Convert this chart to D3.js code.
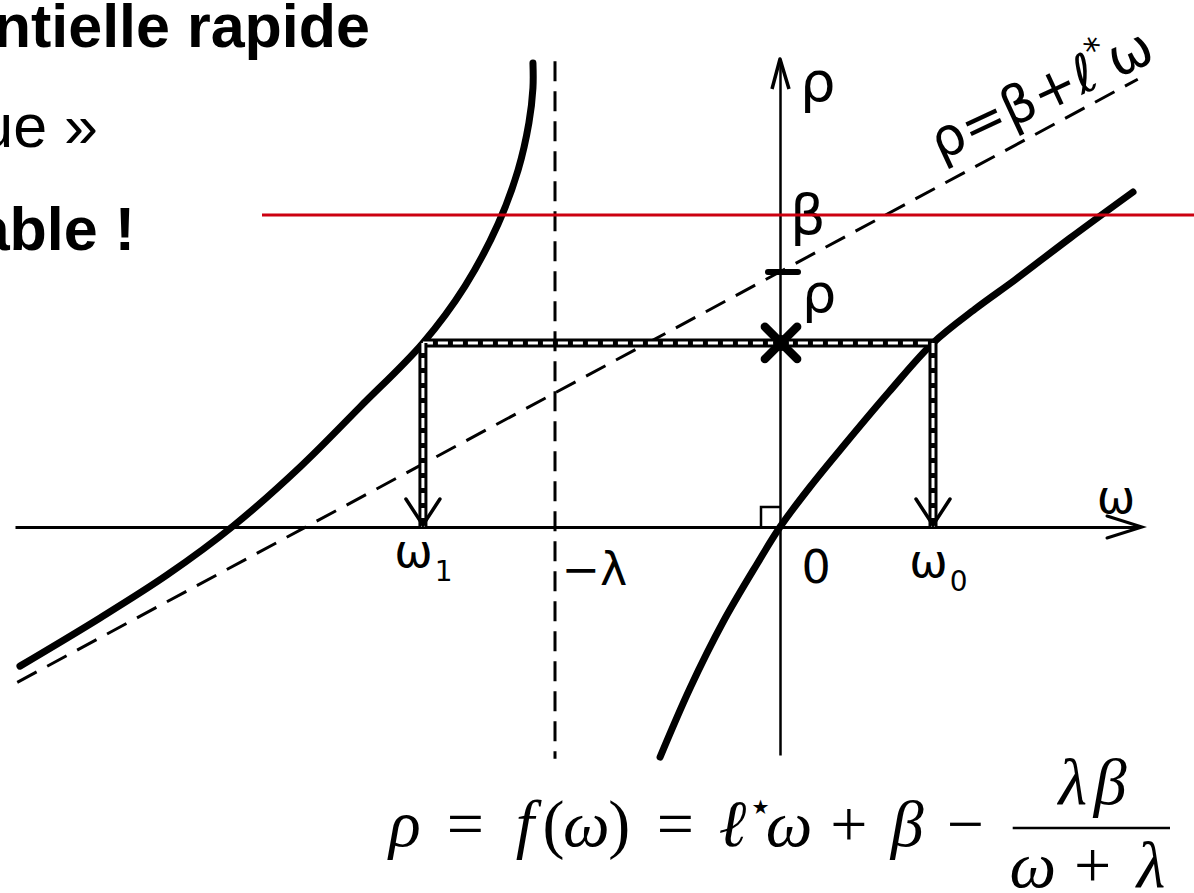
<!DOCTYPE html>
<html>
<head>
<meta charset="utf-8">
<script src="https://cdn.jsdelivr.net/npm/d3@7"></script>
<style>
  html, body { margin: 0; padding: 0; background: #fff; }
  svg { display: block; }
</style>
</head>
<body>
<svg id="chart" width="1194" height="893"></svg>
<script>
// Left branch of rho = f(omega), for omega < -lambda
const leftOmega = [-3.378, -3.022, -2.724, -2.431, -2.133, -1.867, -1.587, -1.400, -1.253, -1.164, -1.116, -1.098, -1.098];
const leftRho   = [-0.618, -0.404, -0.213,  0.004,  0.267,  0.533,  0.818,  1.071,  1.347,  1.587,  1.796,  1.951,  2.062];

// Right branch, for omega > -lambda (passes through the origin)
const rightOmega = [-0.533, -0.400, -0.253, -0.102, 0.000, 0.133, 0.289, 0.484, 0.680, 0.867, 1.044, 1.289, 1.569];
const rightRho   = [-1.022, -0.716, -0.422, -0.164, 0.000, 0.178, 0.369, 0.600, 0.818, 0.969, 1.098, 1.284, 1.489];

// Oblique asymptote rho = beta + l* omega (end points)
const asymOmega = [-3.39, 1.59];
const asymRho   = [-0.69, 1.99];

// Parameters and the chosen level rho
const lambda = 1;
const beta = 1.133;
const rhoLevel = 0.818;
const omega1 = -1.587;
const omega0 = 0.680;

// Horizontal axis ticks and their labels [main, subscript]
const tickValues = [omega1, -lambda, 0, omega0];
const tickLabels = [["ω", "1"], ["−λ", ""], ["0", ""], ["ω", "0"]];

// ---------------------------------------------------------------
const W = 1194, H = 893;
const svg = d3.select("#chart");

const x = d3.scaleLinear().domain([-3.4, 1.6]).range([15, 1140]);
const y = d3.scaleLinear().domain([-1.013, 2.08]).range([755, 59]);

const hand = "'DejaVu Sans', sans-serif";
const serif = "'Liberation Serif', 'DejaVu Serif', serif";

// Slide text fragments at the top left
const head = svg.append("g").attr("font-family", "'Liberation Sans', Arial, sans-serif").attr("font-size", 61).attr("fill", "#000");
head.append("text").attr("x", 370).attr("y", 47).attr("text-anchor", "end").attr("font-weight", "bold").text("ntielle rapide");
head.append("text").attr("x", 98).attr("y", 147).attr("text-anchor", "end").text("ue »");
head.append("text").attr("x", 135).attr("y", 250).attr("text-anchor", "end").attr("font-weight", "bold").text("able !");

// Vertical asymptote omega = -lambda
svg.append("line")
  .attr("x1", x(-lambda)).attr("x2", x(-lambda))
  .attr("y1", y(2.07)).attr("y2", y(-1.03))
  .attr("stroke", "#000").attr("stroke-width", 3).attr("stroke-dasharray", "20,10");

// Oblique asymptote
svg.append("line")
  .attr("x1", x(asymOmega[0])).attr("y1", y(asymRho[0]))
  .attr("x2", x(asymOmega[1])).attr("y2", y(asymRho[1]))
  .attr("stroke", "#000").attr("stroke-width", 3).attr("stroke-dasharray", "22,12");

// omega axis
const xAxis = d3.axisBottom(x).tickValues(tickValues).tickSize(0).tickSizeOuter(0).tickFormat(() => "");
const gx = svg.append("g").attr("transform", `translate(0,${y(0)})`).call(xAxis);
gx.select(".domain").attr("stroke", "#000").attr("stroke-width", 3);

const labelPlace = [
  { anchor: "middle", dx: 0,  dy: 40 },
  { anchor: "start",  dx: 6,  dy: 58 },
  { anchor: "start",  dx: 21, dy: 56 },
  { anchor: "middle", dx: 5,  dy: 50 }
];
gx.selectAll(".tick text").each(function (d, i) {
  const t = d3.select(this)
    .attr("font-family", hand).attr("font-size", 46).attr("fill", "#000")
    .attr("y", labelPlace[i].dy).attr("dy", null).attr("dx", labelPlace[i].dx)
    .attr("text-anchor", labelPlace[i].anchor);
  t.text(null);
  t.append("tspan").text(tickLabels[i][0]);
  if (tickLabels[i][1]) {
    t.append("tspan").attr("font-size", 28).attr("dy", 14).attr("dx", 2).text(tickLabels[i][1]);
  }
});

// omega axis arrow head
const xe = x(1.6), y0 = y(0);
svg.append("path")
  .attr("d", `M${xe - 33},${y0 - 11} L${xe + 2},${y0} L${xe - 33},${y0 + 11}`)
  .attr("fill", "none").attr("stroke", "#000").attr("stroke-width", 3).attr("stroke-linecap", "round");
svg.append("text").attr("x", xe - 24).attr("y", y0 - 14).attr("text-anchor", "middle")
  .attr("font-family", hand).attr("font-size", 46).text("ω");

// rho axis
const yAxis = d3.axisRight(y).tickValues([]).tickSizeOuter(0);
const gy = svg.append("g").attr("transform", `translate(${x(0)},0)`).call(yAxis);
gy.select(".domain").attr("stroke", "#000").attr("stroke-width", 2.5);
const x0 = x(0), yt = y(2.08);
svg.append("path")
  .attr("d", `M${x0 - 8},${yt + 30} L${x0},${yt} L${x0 + 9},${yt + 30}`)
  .attr("fill", "none").attr("stroke", "#000").attr("stroke-width", 3.5).attr("stroke-linejoin", "round");
svg.append("text").attr("x", x0 + 20).attr("y", yt + 42)
  .attr("font-family", hand).attr("font-size", 56).text("ρ");

// right angle mark at the origin
svg.append("path")
  .attr("d", `M${x0 - 19},${y0} V${y0 - 20} H${x0}`)
  .attr("fill", "none").attr("stroke", "#000").attr("stroke-width", 2.5);

// Curves
const line = d3.line().x(d => x(d[0])).y(d => y(d[1])).curve(d3.curveCatmullRom.alpha(0.5));
const leftPts = leftOmega.map((w, i) => [w, leftRho[i]]);
const rightPts = rightOmega.map((w, i) => [w, rightRho[i]]);
[leftPts, rightPts].forEach(pts => {
  svg.append("path").attr("d", line(pts))
    .attr("fill", "none").attr("stroke", "#000").attr("stroke-width", 7)
    .attr("stroke-linecap", "round").attr("stroke-linejoin", "round");
});

// Construction: level rho and its two preimages
const constr = [
  [[omega1, rhoLevel], [omega0, rhoLevel]],
  [[omega1, rhoLevel], [omega1, 0]],
  [[omega0, rhoLevel], [omega0, 0]]
];
constr.forEach(seg => {
  const d = `M${x(seg[0][0])},${y(seg[0][1])} L${x(seg[1][0])},${y(seg[1][1])}`;
  svg.append("path").attr("d", d).attr("stroke", "#000").attr("stroke-width", 9).attr("stroke-linecap", "butt");
  svg.append("path").attr("d", d).attr("stroke", "#fff").attr("stroke-width", 3).attr("stroke-dasharray", "10,5");
});
[omega1, omega0].forEach(w => {
  const xt = x(w);
  svg.append("path")
    .attr("d", `M${xt - 17},${y0 - 28} L${xt},${y0 - 2} L${xt + 17},${y0 - 28}`)
    .attr("fill", "none").attr("stroke", "#000").attr("stroke-width", 3.5).attr("stroke-linecap", "round");
});

// beta tick and rho star on the vertical axis
svg.append("line")
  .attr("x1", x0 - 12).attr("x2", x0 + 18).attr("y1", y(beta)).attr("y2", y(beta))
  .attr("stroke", "#000").attr("stroke-width", 6).attr("stroke-linecap", "round");
svg.append("path")
  .attr("d", d3.symbol(d3.symbolX, 680)())
  .attr("transform", `translate(${x0 + 1},${y(rhoLevel)})`)
  .attr("fill", "none").attr("stroke", "#000").attr("stroke-width", 8.5).attr("stroke-linecap", "round");
svg.append("circle").attr("cx", x0 + 1).attr("cy", y(rhoLevel)).attr("r", 8).attr("fill", "#000");

svg.append("text").attr("x", x0 + 10).attr("y", y(beta) - 38)
  .attr("font-family", hand).attr("font-size", 56).text("β");
svg.append("text").attr("x", x0 + 22).attr("y", y(rhoLevel) - 31)
  .attr("font-family", hand).attr("font-size", 54).text("ρ");

// Label of the oblique asymptote
const lab = svg.append("text")
  .attr("transform", "translate(940,161) rotate(-25)")
  .attr("font-family", hand).attr("font-size", 53);
lab.append("tspan").text("ρ=β+ℓ");
lab.append("tspan").attr("font-size", 34).attr("dy", -24).text("*");
lab.append("tspan").attr("dy", 24).text("ω");

// Formula rho = f(omega) = l* omega + beta - lambda beta / (omega + lambda),
// laid out on math advance widths (em units); each row is one text element
const em = 65, fsz = 66, base = 846, fracRight = 1170;
const mainTokens = [
  ["ρ", 0.52, "i"], ["", 0.28], ["=", 0.78, "n"], ["", 0.28],
  ["f", 0.49, "i"], ["(", 0.39, "n"], ["ω", 0.62, "i"], [")", 0.39, "n"],
  ["", 0.28], ["=", 0.78, "n"], ["", 0.28],
  ["ℓ", 0.42, "i"], ["⋆", 0.35, "s"], ["ω", 0.62, "i"],
  ["", 0.22], ["+", 0.78, "n"], ["", 0.22], ["β", 0.57, "i"],
  ["", 0.22], ["−", 0.78, "n"], ["", 0.22], ["", 0.12]
];
const denTokens = [["ω", 0.62, "i"], ["", 0.22], ["+", 0.78, "n"], ["", 0.22], ["λ", 0.58, "i"]];
const numTokens = [["λ", 0.58, "i"], ["β", 0.57, "i"]];
const fracW = d3.sum(denTokens, t => t[1]) * em;
const fracLeft = fracRight - fracW;
const mainLeft = fracLeft - d3.sum(mainTokens, t => t[1]) * em;

const fg = svg.append("g").attr("font-family", serif).attr("fill", "#000");
function setTokens(tokens, xStart, yb) {
  const row = fg.append("text").attr("y", yb).attr("font-size", fsz).attr("text-anchor", "middle");
  let cx = xStart;
  tokens.forEach(([s, w, k]) => {
    const wpx = w * em;
    if (s) {
      const t = row.append("tspan").attr("x", cx + wpx / 2).attr("y", yb).text(s);
      if (k === "i") t.attr("font-style", "italic");
      if (k === "s") {
        t.attr("font-size", fsz * 0.6).attr("y", yb - 26).attr("x", cx + 4 + fsz * 0.15)
          .attr("font-family", "'DejaVu Serif', serif");
      }
    }
    cx += wpx;
  });
}
setTokens(mainTokens, mainLeft, base);
setTokens(numTokens, fracLeft + (fracW - d3.sum(numTokens, t => t[1]) * em) / 2, 804);
setTokens(denTokens, fracLeft, 887);
fg.append("line").attr("x1", fracLeft).attr("x2", fracRight).attr("y1", 828).attr("y2", 828)
  .attr("stroke", "#000").attr("stroke-width", 2.6);

// Red horizontal marker line
svg.append("line").attr("x1", 262).attr("x2", W).attr("y1", 215).attr("y2", 215)
  .attr("stroke", "#cc0010").attr("stroke-width", 3.2);
</script>
</body>
</html>
